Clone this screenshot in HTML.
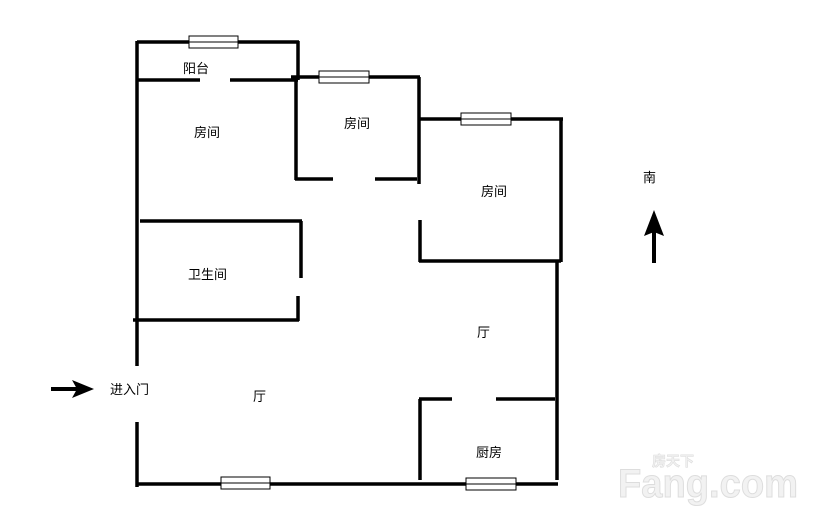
<!DOCTYPE html>
<html><head><meta charset="utf-8"><style>
html,body{margin:0;padding:0;background:#fff;}
svg{display:block}
text{font-family:"Liberation Sans","Noto Sans CJK SC",sans-serif;font-size:13px;fill:#000;}
</style></head><body>
<svg width="814" height="519" viewBox="0 0 814 519">
<g stroke="#000" stroke-width="3.5" fill="none" stroke-linecap="butt">
<line x1="137" y1="41" x2="137" y2="366"/>
<line x1="137" y1="422" x2="137" y2="487"/>
<line x1="137" y1="42" x2="299" y2="42"/>
<line x1="298" y1="41" x2="298" y2="80"/>
<line x1="136" y1="80" x2="200" y2="80"/>
<line x1="230" y1="80" x2="298" y2="80"/>
<line x1="291" y1="77" x2="420" y2="77"/>
<line x1="296" y1="77" x2="296" y2="180"/>
<line x1="295" y1="179" x2="333" y2="179"/>
<line x1="375" y1="179" x2="417" y2="179"/>
<line x1="419" y1="77" x2="419" y2="184"/>
<line x1="418" y1="119" x2="563" y2="119"/>
<line x1="561" y1="118" x2="561" y2="262"/>
<line x1="420" y1="220" x2="420" y2="262"/>
<line x1="419" y1="261" x2="561" y2="261"/>
<line x1="557" y1="261" x2="557" y2="480"/>
<line x1="140" y1="221" x2="302" y2="221"/>
<line x1="301" y1="221" x2="301" y2="278"/>
<line x1="298" y1="296" x2="298" y2="321"/>
<line x1="133" y1="320" x2="299" y2="320"/>
<line x1="419" y1="399" x2="452" y2="399"/>
<line x1="496" y1="399" x2="555" y2="399"/>
<line x1="420" y1="399" x2="420" y2="480"/>
<line x1="137" y1="484" x2="558" y2="484"/>
</g>
<g fill="#fff" stroke="#000" stroke-width="1">
<rect x="189" y="36" width="49" height="12"/><line x1="189" y1="42" x2="238" y2="42"/>
<rect x="319" y="71" width="50" height="12"/><line x1="319" y1="77" x2="369" y2="77"/>
<rect x="461" y="113" width="50" height="12"/><line x1="461" y1="119" x2="511" y2="119"/>
<rect x="221" y="477" width="49" height="12"/><line x1="221" y1="483" x2="270" y2="483"/>
<rect x="466" y="478" width="50" height="12"/><line x1="466" y1="484" x2="516" y2="484"/>
</g>
<line x1="51" y1="389" x2="78" y2="389" stroke="#000" stroke-width="4"/>
<polygon points="72,380 94,389 72,398 77,389" fill="#000"/>
<line x1="654" y1="228" x2="654" y2="263" stroke="#000" stroke-width="4"/>
<polygon points="654,210 664,236 654,232 644,236" fill="#000"/>
<text x="183" y="73">阳台</text>
<text x="194" y="137">房间</text>
<text x="344" y="128">房间</text>
<text x="481" y="196">房间</text>
<text x="188" y="279">卫生间</text>
<text x="477" y="337">厅</text>
<text x="253" y="401">厅</text>
<text x="110" y="394">进入门</text>
<text x="476" y="457">厨房</text>
<text x="643" y="182">南</text>
<text x="652" y="466" style="font-size:14px;font-weight:bold;fill:#f2f2f2;stroke:#ddd;stroke-width:0.6">房天下</text>
<text x="618" y="497" textLength="180" lengthAdjust="spacingAndGlyphs" style="font-size:40px;font-weight:bold;fill:#f2f2f2;stroke:#ddd;stroke-width:1">Fang.com</text>
</svg>
</body></html>
